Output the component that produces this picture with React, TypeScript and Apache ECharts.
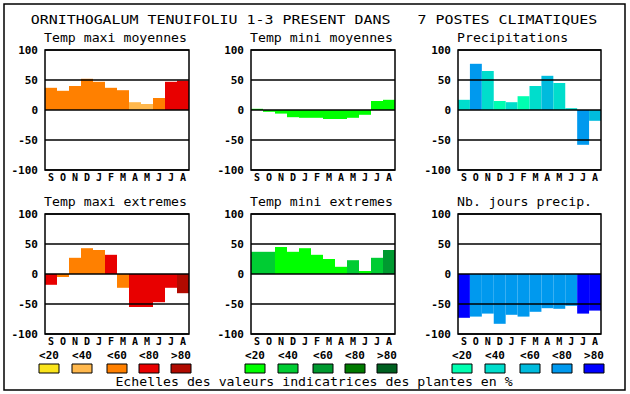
import React, { useEffect, useRef } from 'react';
import * as echarts from 'echarts';

const months = ['S', 'O', 'N', 'D', 'J', 'F', 'M', 'A', 'M', 'J', 'J', 'A'];
const scaleLabels = ['<20', '<40', '<60', '<80', '>80'];

const warmColors = ['#fae41c', '#ffb84d', '#ff8000', '#e80000', '#b00a00'];
const greenColors = ['#00ff00', '#00cc33', '#009a30', '#007a00', '#006020'];
const coolColors = ['#00ffb0', '#00ddcc', '#00bbdd', '#0099ee', '#0000ff'];

const tmaxMoyValues = [37, 32, 40, 52, 47, 37, 33, 13, 10, 20, 47, 49];
const tmaxMoyLevels = [2, 2, 2, 2, 2, 2, 2, 1, 1, 2, 3, 3];
const tminMoyValues = [2, -3, -6, -12, -13, -13, -15, -15, -13, -8, 15, 17];
const tminMoyLevels = [0, 0, 0, 0, 0, 0, 0, 0, 0, 0, 0, 0];
const precipValues = [17, 77, 65, 15, 13, 23, 40, 57, 45, 3, -58, -18];
const precipLevels = [1, 3, 1, 0, 1, 0, 1, 2, 1, 1, 3, 2];
const tmaxExtValues = [-18, -5, 27, 43, 40, 32, -23, -55, -55, -47, -23, -32];
const tmaxExtLevels = [3, 2, 2, 2, 2, 3, 2, 3, 3, 3, 3, 4];
const tminExtValues = [37, 37, 45, 37, 43, 32, 25, 12, 23, 5, 27, 40];
const tminExtLevels = [1, 1, 0, 0, 0, 0, 0, 0, 1, 0, 1, 2];
const joursValues = [-73, -71, -66, -83, -68, -71, -63, -57, -58, -53, -66, -61];
const joursLevels = [4, 3, 3, 3, 3, 3, 3, 3, 3, 3, 4, 4];

const mainTitle = 'ORNITHOGALUM TENUIFOLIU 1-3 PRESENT DANS   7 POSTES CLIMATIQUES';
const caption = 'Echelles des valeurs indicatrices des plantes en %';

const colLefts = [45, 251, 458];
const colWidths = [144, 144, 143];
const rowTops = [50, 214];
const plotHeight = 120;
const boxOffsets = [-6, 27, 62, 94, 126];

const panels = [
  { title: 'Temp maxi moyennes', values: tmaxMoyValues, levels: tmaxMoyLevels, palette: warmColors, col: 0, row: 0 },
  { title: 'Temp mini moyennes', values: tminMoyValues, levels: tminMoyLevels, palette: greenColors, col: 1, row: 0 },
  { title: 'Precipitations', values: precipValues, levels: precipLevels, palette: coolColors, col: 2, row: 0 },
  { title: 'Temp maxi extremes', values: tmaxExtValues, levels: tmaxExtLevels, palette: warmColors, col: 0, row: 1 },
  { title: 'Temp mini extremes', values: tminExtValues, levels: tminExtLevels, palette: greenColors, col: 1, row: 1 },
  { title: 'Nb. jours precip.', values: joursValues, levels: joursLevels, palette: coolColors, col: 2, row: 1 },
];

const palettes = [warmColors, greenColors, coolColors];
const MONO = '"DejaVu Sans Mono", monospace';

export default function App() {
  const ref = useRef<HTMLDivElement>(null);
  useEffect(() => {
    if (!ref.current) return;
    const chart = echarts.init(ref.current, undefined, { renderer: 'svg' });

    const graphics: any[] = [];
    graphics.push({
      type: 'rect',
      shape: { x: 4, y: 4, width: 621, height: 386 },
      style: { fill: 'none', stroke: '#000', lineWidth: 1.5 },
      silent: true,
    });
    graphics.push({
      type: 'text',
      x: 314,
      y: 19,
      scaleX: 1.15,
      style: { text: mainTitle, font: `13px ${MONO}`, fill: '#000', textAlign: 'center', textVerticalAlign: 'middle' },
    });
    panels.forEach((p) => {
      graphics.push({
        type: 'text',
        x: colLefts[p.col] - 1,
        y: rowTops[p.row] - 12,
        scaleX: 1.1,
        style: { text: p.title, font: `12px ${MONO}`, fill: '#000', textAlign: 'left', textVerticalAlign: 'middle' },
      });
    });
    palettes.forEach((pal, c) => {
      pal.forEach((color, k) => {
        const bx = colLefts[c] + boxOffsets[k];
        graphics.push({
          type: 'text',
          x: bx + 10,
          y: 355,
          scaleX: 1.1,
          style: { text: scaleLabels[k], font: `bold 10px ${MONO}`, fill: '#000', textAlign: 'center', textVerticalAlign: 'middle' },
        });
        graphics.push({
          type: 'rect',
          shape: { x: bx, y: 364, width: 20, height: 9 },
          style: { fill: color, stroke: '#000', lineWidth: 1 },
        });
      });
    });
    graphics.push({
      type: 'text',
      x: 314,
      y: 382,
      scaleX: 1.1,
      style: { text: caption, font: `12px ${MONO}`, fill: '#000', textAlign: 'center', textVerticalAlign: 'middle' },
    });

    const option: any = {
      animation: false,
      backgroundColor: '#fff',
      grid: panels.map((p) => ({
        left: colLefts[p.col],
        top: rowTops[p.row],
        width: colWidths[p.col],
        height: plotHeight,
        show: true,
        borderColor: '#000',
        borderWidth: 1.5,
        backgroundColor: 'transparent',
        z: 6,
      })),
      xAxis: panels.map((p, i) => ({
        type: 'category',
        gridIndex: i,
        data: months,
        boundaryGap: true,
        axisLine: { show: false },
        axisTick: { show: false },
        splitLine: { show: false },
        axisLabel: { interval: 0, margin: 2, color: '#000', fontFamily: MONO, fontWeight: 'bold', fontSize: 10 },
      })),
      yAxis: panels.map((p, i) => ({
        type: 'value',
        gridIndex: i,
        min: -100,
        max: 100,
        interval: 50,
        z: 5,
        axisLine: { show: false },
        axisTick: { show: false },
        axisLabel: { margin: 7, color: '#000', fontFamily: MONO, fontWeight: 'bold', fontSize: 11 },
        splitLine: { show: true, lineStyle: { color: '#000', width: 1.5 } },
      })),
      series: panels.map((p, i) => ({
        type: 'bar',
        name: p.title,
        xAxisIndex: i,
        yAxisIndex: i,
        barCategoryGap: '0%',
        barGap: '0%',
        data: p.values.map((v, j) => ({ value: v, itemStyle: { color: p.palette[p.levels[j]] } })),
      })),
      graphic: graphics,
    };
    chart.setOption(option);
    return () => chart.dispose();
  }, []);
  return (
    <div
      ref={ref}
      style={{ position: 'absolute', left: 0, top: 0, width: 630, height: 394, background: '#fff' }}
    />
  );
}
